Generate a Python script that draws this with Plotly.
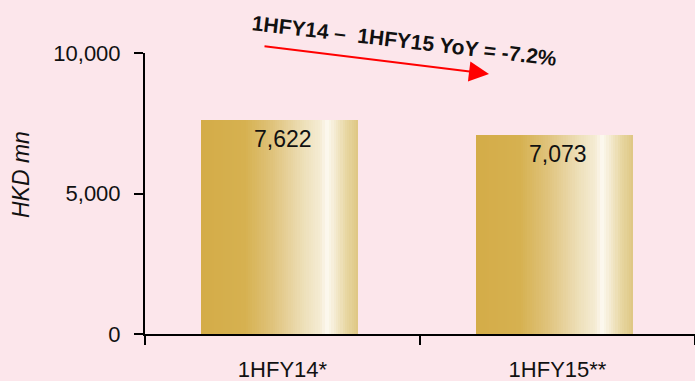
import plotly.graph_objects as go
from plotly.colors import hex_to_rgb

# Data
categories = ["1HFY14*", "1HFY15**"]
values = [7622, 7073]
value_labels = ["7,622", "7,073"]
y_ticks = [0, 5000, 10000]
y_tick_labels = ["0", "5,000", "10,000"]
yoy_text = "1HFY14 \u2013\u00a0\u00a01HFY15 YoY = -7.2%"

# Gold gradient across each bar (left to right)
gradient_stops = [
    (0.00, "#d4ac48"),
    (0.28, "#d6b150"),
    (0.45, "#dfc27a"),
    (0.66, "#eee0ba"),
    (0.76, "#f5ecd4"),
    (0.80, "#fdfaf2"),
    (0.84, "#f6eed8"),
    (0.92, "#e8d7a4"),
    (1.00, "#dec682"),
]


def gradient_color(t):
    for (t0, c0), (t1, c1) in zip(gradient_stops[:-1], gradient_stops[1:]):
        if t0 <= t <= t1:
            f = 0 if t1 == t0 else (t - t0) / (t1 - t0)
            r0, g0, b0 = hex_to_rgb(c0)
            r1, g1, b1 = hex_to_rgb(c1)
            return "rgb({},{},{})".format(
                round(r0 + (r1 - r0) * f),
                round(g0 + (g1 - g0) * f),
                round(b0 + (b1 - b0) * f),
            )
    return gradient_stops[-1][1]


FONT = "Liberation Sans, Arial, sans-serif"
BG = "#fce6eb"

# plot area in pixels: left 145, width 550, top 53, height 281
PW, PH, PL, PB = 550, 281, 145, 334


def px(x):
    return (x - PL) / PW


def py(y):
    return (PB - y) / PH


bar_width = 0.573
bar_shift = -0.011
n_strips = 70
strip = bar_width / n_strips

fig = go.Figure()
for i in range(n_strips):
    t = (i + 0.5) / n_strips
    fig.add_trace(
        go.Bar(
            x=categories,
            y=values,
            width=strip * 1.6 if i < n_strips - 1 else strip,
            offset=-bar_width / 2 + bar_shift + i * strip,
            marker=dict(color=gradient_color(t), line=dict(width=0)),
            showlegend=False,
            hoverinfo="skip",
        )
    )

# Value labels inside the top of each bar
for cat, val, lab in zip(categories, values, value_labels):
    fig.add_annotation(
        x=cat, y=val, xref="x", yref="y",
        text=lab, showarrow=False,
        yanchor="top", yshift=-4, xshift=0,
        font=dict(family=FONT, size=23, color="#111111"),
    )

# Y-axis title
fig.add_annotation(
    x=px(21), y=py(175), xref="paper", yref="paper",
    text="<i>HKD mn</i>", textangle=-90, showarrow=False,
    xanchor="center", yanchor="middle",
    font=dict(family=FONT, size=23, color="#111111"),
)

# Year-on-year change note with arrow
fig.add_annotation(
    x=px(404), y=py(41), xref="paper", yref="paper",
    text="<b>" + yoy_text + "</b>", textangle=6.7, showarrow=False,
    xanchor="center", yanchor="middle",
    font=dict(family=FONT, size=21, color="#111111"),
)
fig.add_annotation(
    x=px(489), y=py(74), xref="paper", yref="paper",
    ax=-226, ay=-28, text="", showarrow=True,
    arrowhead=2, arrowsize=2.0, arrowwidth=2, arrowcolor="#ff0000", standoff=0,
)

fig.update_layout(
    width=695, height=381,
    margin=dict(l=145, r=0, t=53, b=47, pad=0, autoexpand=False),
    paper_bgcolor=BG, plot_bgcolor=BG,
    barmode="overlay", bargap=0,
    font=dict(family=FONT, size=22, color="#111111"),
)
fig.update_xaxes(
    type="category", range=[-0.5, 1.5], automargin=False,
    showline=True, linecolor="#000000", linewidth=2,
    ticks="outside", tickson="boundaries", ticklen=9, tickwidth=2, tickcolor="#000000",
    ticklabelstandoff=15,
    showgrid=False, zeroline=False,
    tickfont=dict(family=FONT, size=22, color="#111111"),
)
fig.update_yaxes(
    range=[0, 10000], automargin=False,
    tickvals=y_ticks, ticktext=y_tick_labels,
    showline=True, linecolor="#000000", linewidth=2,
    ticks="outside", ticklen=9, tickwidth=2, tickcolor="#000000",
    ticklabelstandoff=9,
    showgrid=False, zeroline=False,
    tickfont=dict(family=FONT, size=22, color="#111111"),
)

fig.write_html("out.html")
